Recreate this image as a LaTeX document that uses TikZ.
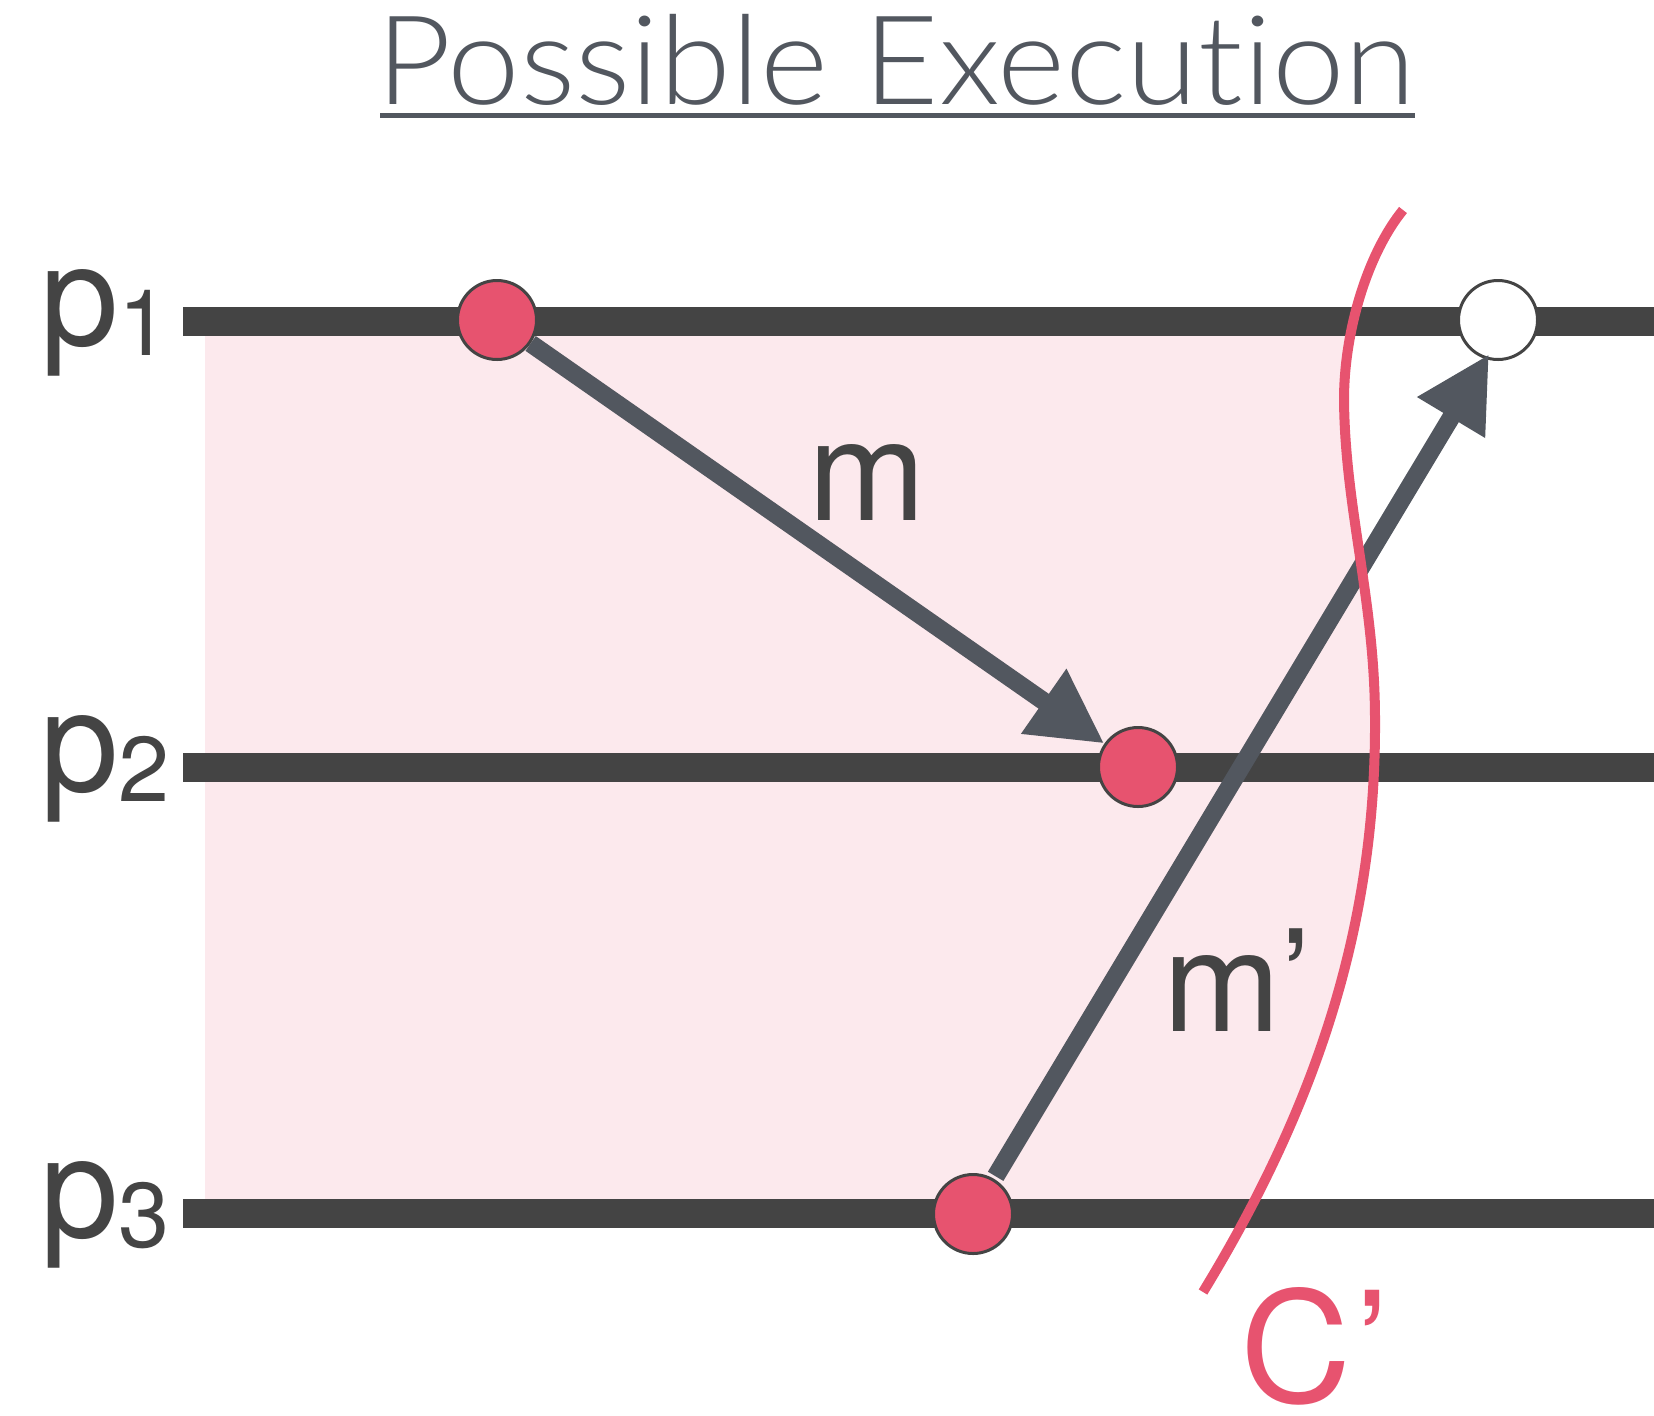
\documentclass[tikz,border=0pt]{standalone}
\usepackage{fontspec}
\setmainfont{TeX Gyre Heros}
\newfontfamily\titlefont{Lato Light}[Ligatures={NoCommon}]
\usetikzlibrary{arrows.meta}
\definecolor{linec}{HTML}{444444}
\definecolor{arrc}{HTML}{52575F}
\definecolor{evred}{HTML}{E7536F}
\definecolor{pinkbg}{HTML}{FCE9ED}
\begin{document}
\begin{tikzpicture}[x=0.5pt,y=-0.5pt,
  proc/.style={line width=14.5pt, draw=linec},
  event/.style={circle, draw=linec, line width=1.5pt, fill=evred, minimum size=39.5pt, inner sep=0pt},
  openevent/.style={event, fill=white},
  msg/.style={draw=arrc, line width=9pt, -{Triangle[length=37pt,width=37pt]}},
  lbl/.style={inner sep=0pt, anchor=base west, text=linec, font=\fontsize{70.5}{70.5}\selectfont},
  cutline/.style={draw=evred, line width=5pt},
]
\useasboundingbox (0,0) rectangle (1654,1415);
\def\cutpath{(1403,210) .. controls (1368,253) and (1344,330) .. (1344,400)
  .. controls (1345,510) and (1375,600) .. (1375,720)
  .. controls (1376,920) and (1320,1100) .. (1203,1292)}
% shaded region left of the cut
\begin{scope}
  \clip (0,210) -- \cutpath -- (0,1292) -- cycle;
  \fill[pinkbg] (205,321) rectangle (1654,1213);
\end{scope}
% title
\node[inner sep=0pt, anchor=base, text=arrc, font=\titlefont\fontsize{62}{62}\selectfont] (title) at (896,104) {\scalebox{1.05}[1]{Possible Execution}};
\draw[arrc, line width=2.5pt] (380,115) -- (1415,115);
% process lines
\coordinate (l1a) at (183,321); \coordinate (l1b) at (1654,321);
\coordinate (l2a) at (183,767); \coordinate (l2b) at (1654,767);
\coordinate (l3a) at (183,1213); \coordinate (l3b) at (1654,1213);
\draw[proc] (l1a) -- (l1b);
\draw[proc] (l2a) -- (l2b);
\draw[proc] (l3a) -- (l3b);
% labels
\node[lbl] (p1) at (40,345) {p\raisebox{-5pt}{\fontsize{46}{46}\selectfont 1}};
\node[lbl] (p2) at (40,791) {p\raisebox{-5pt}{\fontsize{46}{46}\selectfont 2}};
\node[lbl] (p3) at (40,1237) {p\raisebox{-5pt}{\fontsize{46}{46}\selectfont 3}};
% events
\node[event] (e1) at (497,320) {};
\node[event] (e2) at (1138,767) {};
\node[event] (e3) at (973,1214) {};
\node[openevent] (e4) at (1498,320) {};
% messages
\draw[msg] (e1) -- (e2);
\draw[msg, shorten <=1.5pt, shorten >=-3pt] (e3) -- (e4.-107);
\node[lbl] (mlab) at (808,520) {m};
\node[lbl] (mplab) at (1163,1031) {m’};
% cut
\draw[cutline] \cutpath;
\node[lbl, text=evred, font=\fontsize{77}{77}\selectfont] (clab) at (1240,1402) {C\kern2pt’};
\end{tikzpicture}
\end{document}
